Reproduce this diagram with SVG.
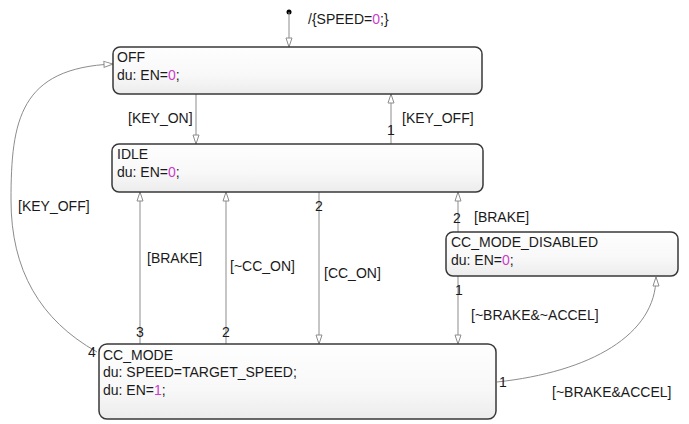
<svg xmlns="http://www.w3.org/2000/svg" width="689" height="424" viewBox="0 0 689 424">
<style>
.box{fill:url(#g);stroke:#383838;stroke-width:1.5}
.t{font-family:"Liberation Sans",Arial,sans-serif;font-size:14px;fill:#1a1a1a}
.n{fill:#cc3ccc}
.c{fill:none;stroke:#8c8c8c;stroke-width:1}
</style>
<defs>
<linearGradient id="g" x1="0" y1="0" x2="0" y2="1">
<stop offset="0" stop-color="#fefefe"/>
<stop offset="0.6" stop-color="#f8f8f8"/>
<stop offset="1" stop-color="#ececec"/>
</linearGradient>
<marker id="a" markerUnits="userSpaceOnUse" markerWidth="12" markerHeight="10" refX="10" refY="4" orient="auto" viewBox="0 0 12 8">
<path d="M1,1 L10,4 L1,7 z" fill="#fff" stroke="#8c8c8c" stroke-width="1"/>
</marker>
</defs>
<rect width="689" height="424" fill="#fff"/>
<g id="connectors">
<circle cx="289" cy="12" r="2.5" fill="#000"/>
<path class="c" d="M289 12 L289 47" marker-end="url(#a)"/>
<path class="c" d="M196 94 L196 144" marker-end="url(#a)"/>
<path class="c" d="M391 144 L391 94" marker-end="url(#a)"/>
<path class="c" d="M140 344 L140 192" marker-end="url(#a)"/>
<path class="c" d="M226 344 L226 192" marker-end="url(#a)"/>
<path class="c" d="M319 192 L319 344" marker-end="url(#a)"/>
<path class="c" d="M458 232 L458 192" marker-end="url(#a)"/>
<path class="c" d="M458 276 L458 344" marker-end="url(#a)"/>
<path class="c" d="M497 382 C590 372 656 335 656 277" marker-end="url(#a)"/>
<path class="c" d="M97 352 C40 320 11 270 11 200 C11 120 20 68 113 64" marker-end="url(#a)"/>
<text class="t" x="308" y="24">/{SPEED=<tspan class="n">0</tspan>;}</text>
<text class="t" x="128" y="123">[KEY_ON]</text>
<text class="t" x="402" y="123">[KEY_OFF]</text>
<text class="t" x="387" y="135">1</text>
<text class="t" x="18" y="211">[KEY_OFF]</text>
<text class="t" x="88" y="357">4</text>
<text class="t" x="147" y="263">[BRAKE]</text>
<text class="t" x="136" y="337">3</text>
<text class="t" x="230" y="271">[~CC_ON]</text>
<text class="t" x="222" y="337">2</text>
<text class="t" x="324" y="278">[CC_ON]</text>
<text class="t" x="315" y="211">2</text>
<text class="t" x="453" y="223">2</text>
<text class="t" x="474" y="222">[BRAKE]</text>
<text class="t" x="455" y="295">1</text>
<text class="t" x="471" y="320">[~BRAKE&amp;~ACCEL]</text>
<text class="t" x="499" y="387">1</text>
<text class="t" x="552" y="397">[~BRAKE&amp;ACCEL]</text>
</g>
<g id="OFF">
<rect class="box" x="113" y="47" width="369" height="47" rx="7"/>
<text class="t" x="117" y="62">OFF</text>
<text class="t" x="117" y="80">du: EN=<tspan class="n">0</tspan>;</text>
</g>
<g id="IDLE">
<rect class="box" x="112" y="144" width="371" height="48" rx="7"/>
<text class="t" x="117" y="159">IDLE</text>
<text class="t" x="117" y="177">du: EN=<tspan class="n">0</tspan>;</text>
</g>
<g id="CC_MODE_DISABLED">
<rect class="box" x="446" y="232" width="232" height="44" rx="7"/>
<text class="t" x="451" y="247">CC_MODE_DISABLED</text>
<text class="t" x="451" y="265">du: EN=<tspan class="n">0</tspan>;</text>
</g>
<g id="CC_MODE">
<rect class="box" x="99" y="344" width="397" height="75" rx="8"/>
<text class="t" x="103" y="360">CC_MODE</text>
<text class="t" x="103" y="377">du: SPEED=TARGET_SPEED;</text>
<text class="t" x="103" y="395">du: EN=<tspan class="n">1</tspan>;</text>
</g>
</svg>
